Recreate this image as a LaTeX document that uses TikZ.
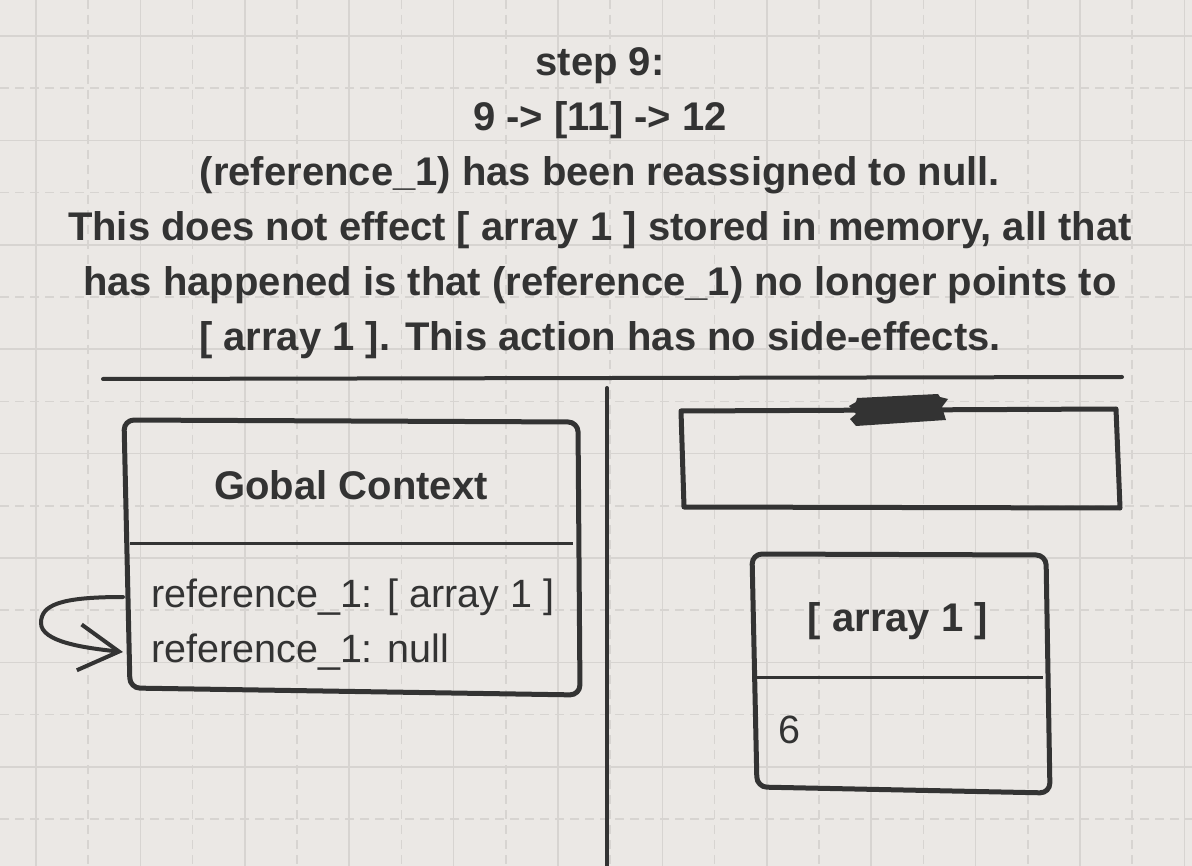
\documentclass[tikz,border=0pt]{standalone}
\usepackage{fontspec}
\setmainfont{Liberation Sans}
\usetikzlibrary{arrows.meta}
\definecolor{bg}{HTML}{EBE8E5}
\definecolor{gridc}{HTML}{D7D4D1}
\definecolor{ink}{HTML}{333333}
\tikzset{
  gridsolid/.style={gridc, line width=1.6pt},
  griddash/.style={gridc, line width=1.6pt, dash pattern=on 9pt off 6pt},
  boxline/.style={ink, line width=5pt, line join=round, rounded corners=10pt},
  divline/.style={ink, line width=3pt},
  rule/.style={ink, line width=4pt, line cap=round},
  headtxt/.style={text=ink, font=\fontsize{40}{55}\selectfont\bfseries, inner sep=0pt},
  bodytxt/.style={text=ink, font=\fontsize{39.5}{55}\selectfont, inner sep=0pt, anchor=west},
}
\begin{document}
\begin{tikzpicture}[x=1pt,y=-1pt]
\useasboundingbox (0,0) rectangle (1192,866);
\fill[bg] (0,0) rectangle (1192,866);
% grid
\foreach \k in {0,...,11} {
  \draw[gridsolid] ({36+104.4*\k},0) -- ({36+104.4*\k},866);
  \draw[griddash] ({88.2+104.4*\k},0) -- ({88.2+104.4*\k},866);
}
\foreach \k in {0,...,8} {
  \draw[gridsolid] (0,{36+104.4*\k}) -- (1192,{36+104.4*\k});
  \draw[griddash] (0,{88.2+104.4*\k}) -- (1192,{88.2+104.4*\k});
}
% title
\node[headtxt, align=center] (title) at (600,203)
  {step 9:\\9 -> {[}11] -> 12\\(reference\_1) has been reassigned to null.\\This does not effect {[} array 1 ] stored in memory, all that\\has happened is that (reference\_1) no longer points to\\{[} array 1 ]. This action has no side-effects.};
% separators
\coordinate (hl) at (103,379);
\coordinate (hr) at (1122,377);
\draw[rule] (hl) -- (hr);
\coordinate (vt) at (607,388);
\coordinate (vb) at (607,870);
\draw[rule] (vt) -- (vb);
% global context box
\draw[boxline] (124,420) -- (578,422) -- (580,695) -- (130,688) -- cycle;
\draw[divline] (130,543) -- (573,543);
\node[headtxt] (gc) at (351,485) {Gobal Context};
\node[bodytxt] (r1) at (151,597) {reference\_1: {[} array 1 ]};
\node[bodytxt] (r2) at (151,652) {reference\_1: null};
% self arrow
\coordinate (a1) at (123,597);
\coordinate (a2) at (123,652);
\draw[ink, line width=4pt, line cap=round, -{Straight Barb[length=40pt,width=46pt,line width=4pt]}]
  (a1) .. controls (60,597) and (41,605) .. (41,623) .. controls (41,642) and (85,648) .. (a2);
% top right box
\draw[boxline, rounded corners=0pt] (681,411) -- (1116,409) -- (1120,508) -- (684,507) -- cycle;
\fill[ink] (857,398) -- (938,394) -- (940,397) -- (948,399) -- (942,407) -- (946,420) -- (856,426) -- (850,419) -- (856,414) -- (849,406) -- (856,402) -- cycle;
% array box
\draw[boxline] (752,554) -- (1046,555) -- (1050,793) -- (757,787) -- cycle;
\draw[divline] (757,677) -- (1043,677);
\node[headtxt] (arr) at (898,621) {{[} array 1 ]};
\node[bodytxt] (six) at (778,730) {6};
\end{tikzpicture}
\end{document}
